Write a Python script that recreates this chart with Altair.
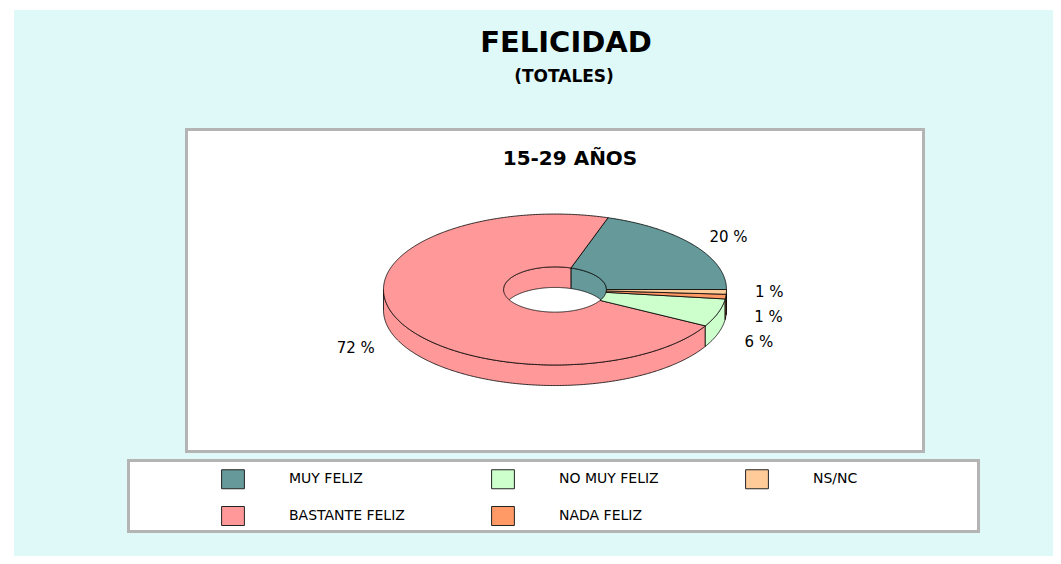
import math
import numpy as np
import pandas as pd
import altair as alt

# ---- data ----
categories = ["Muy feliz", "Bastante feliz", "No muy feliz", "Nada feliz", "Ns/Nc"]
percentages = [20, 72, 6, 1, 1]
colors = ["#669999", "#ff9999", "#ccffcc", "#ff9966", "#ffcc99"]
title_text = "FELICIDAD"
subtitle_text = "(TOTALES)"
panel_text = "15-29 AÑOS"

FONT = "DejaVu Sans"
RY = 0.44      # vertical squash of the tilted pie
DEPTH = 0.12   # thickness of the pie
RIN = 0.30     # hole radius
LABEL_R = 1.25
GAP = 0.146


def arc(r, t0, t1, dz=0.0):
    n = max(2, int(abs(t1 - t0) / 0.5) + 1)
    return [[round(r * math.cos(math.radians(t)), 5),
             round(-RY * r * math.sin(math.radians(t)) + dz, 5)]
            for t in np.linspace(t0, t1, n)]


def feature(ring, cat):
    ring = ring + [ring[0]]
    return {"type": "Feature", "properties": {"cat": cat},
            "geometry": {"type": "Polygon", "coordinates": [ring]}}


tops, sides, inners, labels = [], [], [], []
total = sum(percentages)
start = 0.0
for cat, p in zip(categories, percentages):
    a0 = start
    a1 = start + 360.0 * p / total
    start = a1
    tops.append(feature(arc(1, a0, a1) + arc(RIN, a1, a0), cat))
    s0, s1 = max(a0, 180), min(a1, 360)
    if s1 > s0:
        sides.append(feature(arc(1, s0, s1) + arc(1, s1, s0, DEPTH), cat))
    s0, s1 = max(a0, 0), min(a1, 180)
    if s1 > s0:
        inners.append(feature(arc(RIN, s0, s1) + arc(RIN, s1, s0, DEPTH), cat))
    m = math.radians((a0 + a1) / 2)
    lx = LABEL_R * math.cos(m)
    ly = -RY * LABEL_R * math.sin(m) + (DEPTH if math.sin(m) < 0 else 0)
    labels.append({"cat": cat, "label": f"{p} %", "lx": lx, "ly": ly})

# simple overlap resolution of labels on each side
for side in (lambda l: l["lx"] > 0, lambda l: l["lx"] <= 0):
    grp = sorted([l for l in labels if side(l)], key=lambda l: -l["ly"])
    for i in range(1, len(grp)):
        if grp[i]["ly"] > grp[i - 1]["ly"] - GAP:
            grp[i]["ly"] = grp[i - 1]["ly"] - GAP

color_enc = alt.Color(
    "properties.cat:N",
    scale=alt.Scale(domain=categories, range=colors),
    legend=alt.Legend(
        title=None, orient="none", legendX=209, legendY=459, columns=3,
        columnPadding=84, rowPadding=13, padding=0,
        symbolType="M-1.2,-1H1.2V1H-1.2Z", symbolSize=361,
        symbolStrokeColor="#222222", symbolStrokeWidth=1, symbolOpacity=1,
        labelFont=FONT, labelFontSize=14, labelColor="black", labelOffset=46,
        labelExpr="upper(datum.label)",
    ),
)

one = alt.Data(values=[{}])

backdrop = alt.Chart(one).mark_rect(fill="#dff9f9").encode(
    x=alt.value(0), x2=alt.value(1039), y=alt.value(0), y2=alt.value(546))
plot_box = alt.Chart(one).mark_rect(fill="white", stroke="#b4b4b4", strokeWidth=3).encode(
    x=alt.value(172.5), x2=alt.value(909.5), y=alt.value(119.5), y2=alt.value(441.5))
legend_box = alt.Chart(one).mark_rect(fill="white", stroke="#b4b4b4", strokeWidth=3).encode(
    x=alt.value(114.5), x2=alt.value(964.5), y=alt.value(450.5), y2=alt.value(521.5))

shape_style = dict(stroke="black", strokeWidth=0.8, opacity=1)
side_layer = alt.Chart(alt.Data(values=sides)).mark_geoshape(**shape_style).encode(color=color_enc)
inner_layer = alt.Chart(alt.Data(values=inners)).mark_geoshape(**shape_style).encode(color=color_enc)
top_layer = alt.Chart(alt.Data(values=tops)).mark_geoshape(**shape_style).encode(color=color_enc)

label_layer = alt.Chart(pd.DataFrame(labels)).mark_text(
    font=FONT, fontSize=15, color="black", align="center", baseline="middle", dy=3
).encode(longitude="lx:Q", latitude="ly:Q", text="label:N")

t1 = alt.Chart(one).mark_text(text=title_text, font=FONT, fontSize=29, fontWeight="bold",
                               color="black", align="center", baseline="middle").encode(
    x=alt.value(552), y=alt.value(33))
t2 = alt.Chart(one).mark_text(text=subtitle_text, font=FONT, fontSize=17, fontWeight="bold",
                               color="black", align="center", baseline="middle").encode(
    x=alt.value(550), y=alt.value(67))
t3 = alt.Chart(one).mark_text(text=panel_text, font=FONT, fontSize=20, fontWeight="bold",
                               color="black", align="center", baseline="middle").encode(
    x=alt.value(556), y=alt.value(149))

chart = alt.layer(
    backdrop, plot_box, legend_box, side_layer, inner_layer, top_layer, label_layer, t1, t2, t3
).properties(
    width=1039, height=546,
    padding={"left": 6, "top": 2, "right": 0, "bottom": 0},
    autosize=alt.AutoSizeParams(type="none"),
    background="white",
    projection=alt.Projection(type="identity", scale=171.5, translate=[541, 279.5]),
).configure_view(strokeWidth=0)

chart.save("out.html", embed_options={"renderer": "svg", "actions": False})
